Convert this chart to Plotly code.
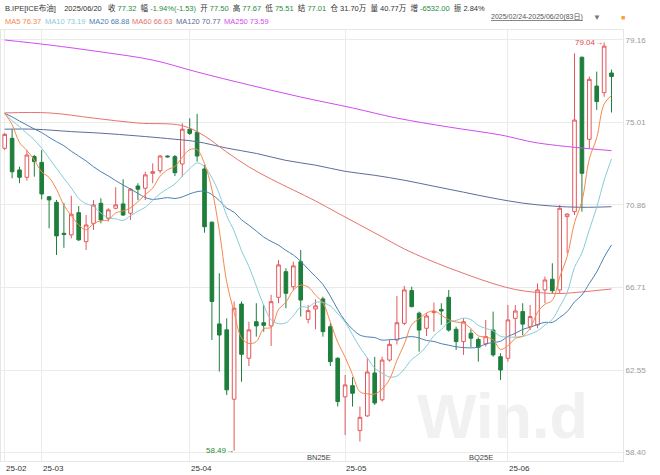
import pandas as pd
import plotly.graph_objects as go

# ---------------- data ----------------
opens = [73.71, 74.21, 72.62, 72.25, 73.29, 73.00, 71.27, 70.99, 69.43, 69.35,
         70.47, 69.01, 69.93, 70.94, 70.19, 70.69, 70.91, 70.44, 71.81, 71.70,
         72.45, 72.58, 73.32, 73.29, 72.92, 74.67, 74.51, 72.67, 69.99, 64.87,
         64.57, 61.08, 65.87, 63.14, 64.98, 64.93, 64.77, 66.21, 67.50, 66.74,
         68.00, 65.10, 65.62, 66.13, 64.73, 63.14, 61.20, 61.76, 59.50, 60.24,
         62.40, 61.05, 63.05, 64.06, 64.90, 66.55, 65.41, 64.65, 65.44, 65.60,
         66.21, 64.60, 63.98, 64.40, 64.09, 63.86, 64.56, 63.22, 63.14, 65.15,
         65.49, 64.73, 64.82, 66.58, 67.12, 66.58, 70.27, 70.52, 78.29, 74.16,
         76.84, 76.51, 77.50]
highs = [74.48, 74.67, 72.78, 73.62, 73.37, 73.62, 71.30, 71.11, 70.96, 71.32,
         70.80, 70.35, 71.10, 71.19, 70.69, 71.75, 72.15, 71.70, 71.95, 72.53,
         72.95, 73.37, 73.35, 73.37, 74.97, 75.22, 75.44, 72.87, 70.02, 67.42,
         65.15, 66.00, 66.00, 64.98, 65.91, 65.82, 66.33, 68.09, 67.67, 68.00,
         68.59, 65.82, 66.11, 66.24, 64.90, 63.19, 62.30, 62.19, 60.71, 63.16,
         63.21, 63.22, 64.06, 66.28, 66.78, 66.74, 65.49, 65.41, 65.94, 65.91,
         66.58, 64.73, 65.15, 64.60, 64.19, 65.07, 65.49, 63.39, 65.82, 65.82,
         65.91, 65.82, 66.91, 67.25, 67.92, 70.86, 70.44, 78.49, 78.33, 77.32,
         77.57, 79.04, 77.67]
lows = [73.62, 72.20, 71.95, 72.08, 72.28, 71.14, 69.68, 68.34, 68.70, 69.18,
        69.05, 68.59, 69.60, 69.93, 70.02, 70.64, 70.30, 70.10, 71.10, 71.10,
        71.95, 72.45, 73.25, 72.31, 72.28, 74.38, 73.04, 69.46, 64.06, 62.47,
        61.29, 58.49, 61.96, 62.75, 64.23, 64.48, 63.76, 65.91, 65.66, 66.58,
        65.24, 64.90, 64.60, 64.23, 62.75, 60.71, 59.28, 60.71, 58.95, 60.19,
        60.79, 60.96, 62.97, 63.84, 64.81, 65.70, 63.47, 64.26, 64.48, 64.82,
        64.48, 63.56, 63.31, 63.70, 62.97, 63.73, 63.22, 62.05, 62.97, 64.23,
        64.31, 64.56, 64.65, 65.91, 66.41, 66.41, 68.42, 70.35, 70.52, 73.71,
        75.64, 76.30, 75.51]
closes = [74.41, 72.53, 72.25, 73.37, 73.04, 71.41, 71.11, 69.30, 69.37, 70.39,
          69.10, 69.85, 70.86, 70.10, 70.61, 70.86, 70.35, 71.65, 71.65, 72.37,
          72.53, 73.32, 73.28, 72.48, 74.67, 74.46, 73.32, 69.76, 66.00, 64.31,
          61.55, 65.66, 63.34, 64.57, 64.77, 64.80, 65.99, 67.84, 66.41, 67.79,
          66.07, 65.54, 65.78, 64.48, 62.97, 60.96, 61.80, 61.38, 60.17, 62.45,
          60.89, 63.05, 63.84, 64.93, 66.58, 65.74, 64.56, 65.27, 65.49, 65.52,
          64.56, 63.98, 64.98, 64.15, 63.69, 64.23, 63.31, 62.55, 65.07, 65.52,
          64.86, 65.24, 66.58, 67.08, 66.54, 70.69, 70.40, 75.13, 72.45, 77.18,
          76.06, 78.85, 77.32]

# moving-average values at the left edge (prior history is off-chart)
ma5_head = [75.47, 74.90, 74.00, 73.60]
ma10_head = [75.47, 75.10, 74.80, 74.46, 74.13, 73.71, 73.21, 72.70, 72.20]
ma20_head = [75.47, 75.29, 75.08, 74.88, 74.68, 74.50, 74.26, 74.04, 73.84, 73.56,
             73.32, 73.07, 72.78, 72.53, 72.32, 72.08, 71.86, 71.66, 71.44]

ma60_idx = [0, 6, 12, 18, 24, 27, 30, 33, 36, 39, 42, 45, 48, 51, 54, 57, 60, 63, 66, 69, 72, 75, 78, 82]
ma60_val = [75.49, 75.49, 75.23, 74.98, 74.85, 74.33, 73.52, 72.77, 72.16, 71.61, 71.06, 70.45,
            69.85, 69.25, 68.64, 68.14, 67.69, 67.28, 66.90, 66.60, 66.45, 66.40, 66.48, 66.63]
ma120_idx = [0, 4, 9, 13, 18, 22, 26, 30, 34, 38, 42, 46, 50, 54, 58, 62, 66, 70, 74, 78, 82]
ma120_val = [74.67, 74.67, 74.55, 74.47, 74.33, 74.20, 74.04, 73.72, 73.45, 73.10, 72.86, 72.55,
             72.35, 72.10, 71.80, 71.50, 71.20, 70.95, 70.80, 70.74, 70.77]
ma250_idx = [0, 6, 13, 20, 26, 33, 40, 47, 53, 60, 67, 72, 82]
ma250_val = [79.16, 78.91, 78.56, 78.15, 77.55, 76.90, 76.29, 75.74, 75.23, 74.78, 74.38, 73.98, 73.59]

y_ticks = [58.40, 62.55, 66.71, 70.86, 75.01, 79.16]
month_idx = [0, 5, 25, 46, 68]
month_text = ["25-02", "25-03", "25-04", "25-05", "25-06"]
contract_idx = [42.5, 64.4]
contract_text = ["BN25E", "BQ25E"]

# ---------------- derived ----------------
n = len(closes)
xs = list(range(n))
cs = pd.Series(closes)
def ma(w, head):
    s = cs.rolling(w).mean().tolist()
    return head + s[len(head):]
ma5 = ma(5, ma5_head)
ma10 = ma(10, ma10_head)
ma20 = ma(20, ma20_head)

UP = "#E4585C"
DOWN = "#1E7E3C"
C_MA5, C_MA10, C_MA20 = "#F4894B", "#86CCD6", "#4A80B4"
C_MA60, C_MA120, C_MA250 = "#E8736F", "#5E6C98", "#D24BEF"
GREEN_T = "#1F8B3B"
FONT = "Liberation Sans, Arial, Noto Sans CJK SC, sans-serif"

fig = go.Figure()
fig.add_trace(go.Scatter(x=ma250_idx, y=ma250_val, mode="lines", line=dict(color=C_MA250, width=1, shape="spline"), hoverinfo="skip"))
fig.add_trace(go.Scatter(x=ma120_idx, y=ma120_val, mode="lines", line=dict(color=C_MA120, width=1, shape="spline"), hoverinfo="skip"))
fig.add_trace(go.Scatter(x=ma60_idx, y=ma60_val, mode="lines", line=dict(color=C_MA60, width=1, shape="spline"), hoverinfo="skip"))
fig.add_trace(go.Scatter(x=xs, y=ma20, mode="lines", line=dict(color=C_MA20, width=1, shape="spline"), hoverinfo="skip"))
fig.add_trace(go.Scatter(x=xs, y=ma10, mode="lines", line=dict(color=C_MA10, width=1, shape="spline"), hoverinfo="skip"))
fig.add_trace(go.Scatter(x=xs, y=ma5, mode="lines", line=dict(color=C_MA5, width=1, shape="spline"), hoverinfo="skip"))
fig.add_trace(go.Candlestick(
    x=xs, open=opens, high=highs, low=lows, close=closes,
    increasing=dict(line=dict(color=UP, width=1), fillcolor="white"),
    decreasing=dict(line=dict(color=DOWN, width=1), fillcolor=DOWN),
    whiskerwidth=0,
))

ann = []
def sp(t, c):
    return f"<span style='color:{c}'>{t}</span>"
D = "#333333"
G3 = "&nbsp;&nbsp;"
row1 = (sp("B.IPE[ICE布油]", D) + G3 + "&nbsp;&nbsp;" + sp("2025/06/20", D) + G3 + "&nbsp;"
        + sp("收 ", D) + sp("77.32", GREEN_T) + G3
        + sp("幅 ", D) + sp("-1.94%(-1.53)", GREEN_T) + G3
        + sp("开 ", D) + sp("77.50", GREEN_T) + G3
        + sp("高 ", D) + sp("77.67", GREEN_T) + G3
        + sp("低 ", D) + sp("75.51", GREEN_T) + G3
        + sp("结 ", D) + sp("77.01", GREEN_T) + G3
        + sp("仓 31.70万", D) + G3
        + sp("量 40.77万", D) + G3
        + sp("增 ", D) + sp("-6532.00", GREEN_T) + G3
        + sp("振 2.84%", D))
ann.append(dict(xref="paper", yref="paper", x=0, y=1, xshift=2, yshift=22, xanchor="left", yanchor="middle",
                text=row1, showarrow=False, font=dict(size=7.5, family=FONT, color=D)))
legend_items = [("MA5 76.37", C_MA5, 3), ("MA10 73.19", C_MA10, 43), ("MA20 68.88", C_MA20, 87),
                ("MA60 66.63", C_MA60, 130), ("MA120 70.77", C_MA120, 174), ("MA250 73.59", C_MA250, 222)]
for t, c, px in legend_items:
    ann.append(dict(xref="paper", yref="paper", x=0, y=1, xshift=px - 1, yshift=9, xanchor="left", yanchor="middle",
                    text=t, showarrow=False, font=dict(size=7.5, family=FONT, color=c)))
ann.append(dict(xref="paper", yref="paper", x=1, y=1, xshift=-38, yshift=13, xanchor="right", yanchor="middle",
                text="<u>2025/02/24-2025/06/20(83日)</u>", showarrow=False, font=dict(size=7, family=FONT, color="#555555")))
ann.append(dict(xref="paper", yref="paper", x=1, y=1, xshift=-26, yshift=13, xanchor="center", yanchor="middle",
                text="▼", showarrow=False, font=dict(size=8, family=FONT, color="#777777")))
ann.append(dict(xref="paper", yref="paper", x=1, y=1, xshift=0, yshift=13, xanchor="center", yanchor="middle",
                text="■", showarrow=False, font=dict(size=7, family=FONT, color="#F2A33A")))
for i, t in zip(month_idx, month_text):
    ann.append(dict(x=i, y=0, xref="x", yref="paper", xanchor="left", yanchor="top", yshift=-1, xshift=-1,
                    text=t, showarrow=False, font=dict(size=8, family=FONT, color="#333333")))
for i, t in zip(contract_idx, contract_text):
    ann.append(dict(x=i, y=0, xref="x", yref="paper", xanchor="center", yanchor="bottom", yshift=-3,
                    text=t, showarrow=False, font=dict(size=7.5, family=FONT, color="#444444")))
ann.append(dict(x=81, y=max(highs), xref="x", yref="y", xanchor="right", yanchor="middle", xshift=1,
                text="79.04→", showarrow=False, font=dict(size=8, family=FONT, color="#E0474C")))
ann.append(dict(x=31, y=min(lows), xref="x", yref="y", xanchor="right", yanchor="middle", xshift=2,
                text="58.49→", showarrow=False, font=dict(size=8, family=FONT, color=GREEN_T)))
# watermark
ann.append(dict(xref="paper", yref="paper", x=0.666, y=0.19, xanchor="left", yanchor="top",
                text="<b>Win.d</b>", showarrow=False,
                font=dict(size=63, family="Liberation Sans", color="rgba(228,228,228,0.5)")))

fig.update_layout(
    width=660, height=475, margin=dict(l=1, r=37, t=30, b=14),
    paper_bgcolor="white", plot_bgcolor="white", showlegend=False,
    annotations=ann,
    xaxis=dict(range=[-0.5, 83.55], tickvals=month_idx, showticklabels=False, showgrid=True,
               gridcolor="#EBEBEB", gridwidth=1, zeroline=False, rangeslider=dict(visible=False),
               showline=True, linecolor="#E6E6E6", mirror=True, ticks=""),
    yaxis=dict(range=[57.97, 79.663], side="right", tickvals=y_ticks, ticktext=[f"{v:.2f}" for v in y_ticks],
               showgrid=True, gridcolor="#EBEBEB", zeroline=False, tickfont=dict(size=8, family=FONT, color="#999999"),
               showline=True, linecolor="#E6E6E6", mirror=True, ticks=""),
)
fig.write_html("out.html", config={"displayModeBar": False},
               post_script="document.body.style.margin='0px';document.body.style.padding='0px';")
